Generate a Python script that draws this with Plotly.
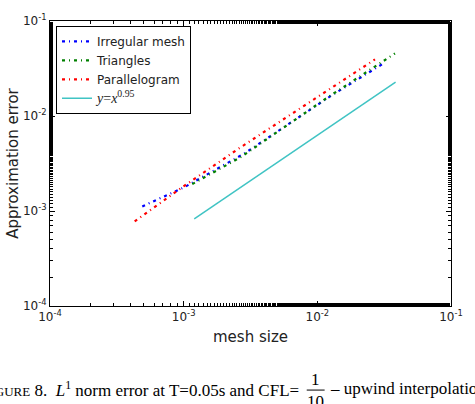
import plotly.graph_objects as go

# Data
irregular_x = [4.90e-4, 1.01e-3, 2.83e-3, 1.285e-2, 3.06e-2]
irregular_y = [1.117e-3, 1.778e-3, 4.01e-3, 1.656e-2, 3.51e-2]

triangles_x = [1.16e-3, 2.64e-3, 1.18e-2, 3.81e-2]
triangles_y = [1.92e-3, 3.65e-3, 1.552e-2, 4.55e-2]

parallel_x = [4.30e-4, 9.44e-4, 2.56e-3, 1.159e-2, 2.70e-2]
parallel_y = [7.78e-4, 1.72e-3, 4.51e-3, 1.832e-2, 3.94e-2]

ref_x = [1.2e-3, 3.85e-2]
ref_y = [8.26e-4, 2.27e-2]

tick_vals = [1e-4, 1e-3, 1e-2, 1e-1]
tick_text = ["10<sup>-4</sup>", "10<sup>-3</sup>", "10<sup>-2</sup>", "10<sup>-1</sup>"]

dash = "3px,4px,1px,4px"
fig = go.Figure()
fig.add_trace(go.Scatter(x=irregular_x, y=irregular_y, mode="lines", name="Irregular mesh",
                         line=dict(color="#0000ff", width=2.2, dash=dash)))
fig.add_trace(go.Scatter(x=triangles_x, y=triangles_y, mode="lines", name="Triangles",
                         line=dict(color="#008000", width=2.2, dash=dash)))
fig.add_trace(go.Scatter(x=parallel_x, y=parallel_y, mode="lines", name="Parallelogram",
                         line=dict(color="#ff0000", width=2.2, dash=dash)))
fig.add_trace(go.Scatter(x=ref_x, y=ref_y, mode="lines",
                         name="<span style='font-family:Liberation Serif;font-size:14px'><i>y</i>=<i>x</i><sup>0.95</sup></span>",
                         line=dict(color="#40c4c4", width=1.5)))

axis_common = dict(
    type="log", showgrid=False, zeroline=False,
    showline=True, linecolor="black", linewidth=1, mirror="allticks",
    ticks="inside", ticklen=5, tickcolor="black", tickwidth=1,
    tickvals=tick_vals, ticktext=tick_text,
    tickfont=dict(family="DejaVu Sans", size=12, color="#222"),
    minor=dict(ticks="inside", ticklen=3, tickcolor="black", tickwidth=1, showgrid=False),
    range=[-4, -1],
)
fig.update_xaxes(**axis_common,
                 title=dict(text="mesh size", font=dict(family="DejaVu Sans", size=15, color="#222"), standoff=8))
fig.update_yaxes(**axis_common,
                 title=dict(text="Approximation error", font=dict(family="DejaVu Sans", size=15, color="#222"), standoff=0))

fig.update_layout(
    width=475, height=404,
    margin=dict(l=50, r=22, t=14, b=98),
    plot_bgcolor="white", paper_bgcolor="white",
    showlegend=True,
    legend=dict(x=0.015, y=0.983, xanchor="left", yanchor="top",
                bordercolor="black", borderwidth=1, bgcolor="white",
                font=dict(family="DejaVu Sans", size=12, color="#222"),
                tracegroupgap=0, itemwidth=30),
)

cap_font = dict(family="Liberation Serif", size=17, color="black")
fig.add_annotation(xref="paper", yref="paper", x=(302 - 50) / 403, y=-0.29, xanchor="right", yanchor="middle",
                   showarrow=False, font=cap_font,
                   text="F<span style='font-size:13px'>IGURE</span> 8.  <i>L</i><sup>1</sup> norm error at T=0.05s and CFL=")
fig.add_annotation(xref="paper", yref="paper", x=(317 - 50) / 403, y=-0.258, xanchor="center", yanchor="middle",
                   showarrow=False, font=cap_font, text="1")
fig.add_annotation(xref="paper", yref="paper", x=(317 - 50) / 403, y=-0.335, xanchor="center", yanchor="middle",
                   showarrow=False, font=cap_font, text="10")
fig.add_shape(type="line", xref="paper", yref="paper", x0=(308 - 50) / 403, x1=(326 - 50) / 403,
              y0=-0.295, y1=-0.295, line=dict(color="black", width=1))
fig.add_annotation(xref="paper", yref="paper", x=(329 - 50) / 403, y=-0.29, xanchor="left", yanchor="middle",
                   showarrow=False, font=cap_font, text="– upwind interpolation")

fig.write_html("out.html")
